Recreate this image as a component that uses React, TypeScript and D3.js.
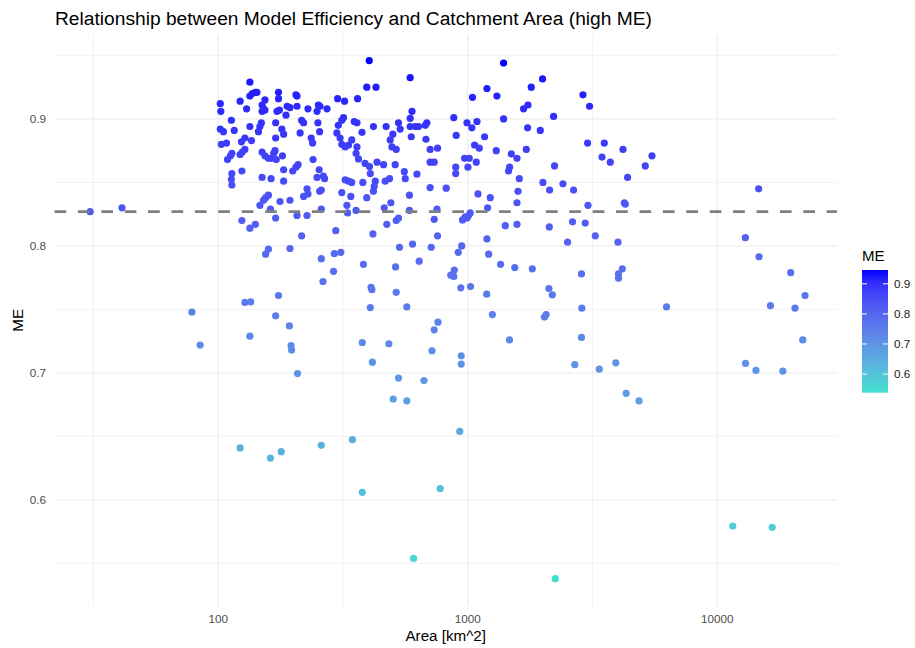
import React from "react";
import * as d3 from "d3";

// ---- data: catchment area [km^2] and model efficiency (ME) ----
const areaKm2: number[] = [
  134,141,137,134,143,174.5,174.5,205,207,154,122.5,102,102.5,130,150,152,150,154,172,176,189,194,207,187,229,252,249,256,273,113,216,220,251,170,149,147,102,105,116,134,145,180,183,170,213,255,236,239,128,124,136,108,103,113.5,112,109,125,122.5,128,150,154,167,169,164,171,159,181,240,183,199,205,209,254,249,264,267,124.5,113.5,113,113.5,150,163,183,227,220,229,259,255,159,155,152,177,194,147,162,170,207,227,259,124.5,141,134,216,296,
  30.7,41.2,78.5,84.7,
  403,588,394,429,301,321,362,598,588,318,313,303,299,308,313,323,333,343,351,360,377,419,471,528,536,588,616,635,686,676,879,899,594,501,489,680,360,357,365,497,517,707,757,707,734,388,404,407,433,460,512,557,562,626,895,895,323,333,343,380,426,422,419,467,486,707,820,313,340,328,394,492,584,463,584,753,330,357,528,517,734,474,417,757,
  1392,1994,1797,1194,1045,1309,2895,3077,1743,1674,2208,1392,993,1039,1089,1168,1737,1953,3021,3525,1065,1112,1301,1494,1575,1716,3451,971,1014,1082,1002,1471,1457,2228,1609,2001,2407,1590,2128,2655,1099,1231,1575,3032,1201,977,953,1007,993,1023,1414,1575,2630,2957,2122,3243,1194,
  4188,3725,5472,5143,4370,14640,4240,4279,2512,3999,12950,14690,
  159,155,194,259,292,310,382,533,601,639,714,514,916,946,883,855,879,1213,1354,1543,1814,4162,4018,4018,2856,19670,290,263,410,413,517,938,1026,1191,2114,2182,22460,174.5,128,135,170,407,570,1255,2029,2061,2864,6258,16320,20470,193,760,734,134,196,197,378,483,719,1470,2856,21990,415,942,942,2685,3365,3919,12970,14280,18300,208,528,668,4314,4856,503,570,929,122.5,162,179,259,345,378,776,607,2242,11530,16590,
];

const meValues: number[] = [
  0.929,0.921,0.920,0.918,0.921,0.921,0.916,0.919,0.918,0.915,0.914,0.912,0.906,0.908,0.911,0.908,0.906,0.907,0.906,0.907,0.910,0.909,0.910,0.903,0.908,0.911,0.906,0.910,0.908,0.899,0.899,0.897,0.897,0.897,0.897,0.894,0.892,0.890,0.891,0.894,0.890,0.892,0.888,0.885,0.889,0.890,0.885,0.881,0.885,0.882,0.883,0.881,0.880,0.873,0.871,0.868,0.874,0.872,0.876,0.874,0.871,0.873,0.875,0.869,0.868,0.869,0.871,0.868,0.860,0.859,0.862,0.864,0.860,0.854,0.855,0.853,0.859,0.857,0.8525,0.848,0.854,0.853,0.851,0.845,0.839,0.841,0.844,0.843,0.840,0.838,0.836,0.835,0.836,0.832,0.829,0.822,0.824,0.824,0.829,0.820,0.817,0.814,0.808,0.812,
  0.827,0.830,0.748,0.722,
  0.946,0.9325,0.925,0.925,0.916,0.914,0.916,0.906,0.9005,0.901,0.899,0.895,0.889,0.885,0.880,0.878,0.8795,0.8835,0.898,0.897,0.8895,0.894,0.894,0.897,0.892,0.894,0.894,0.894,0.897,0.895,0.901,0.887,0.886,0.888,0.8835,0.884,0.878,0.873,0.8685,0.878,0.876,0.876,0.877,0.866,0.866,0.865,0.8625,0.857,0.866,0.864,0.864,0.8585,0.853,0.8565,0.862,0.857,0.852,0.851,0.850,0.850,0.851,0.847,0.843,0.851,0.853,0.846,0.8455,0.842,0.839,0.832,0.838,0.834,0.840,0.830,0.828,0.829,0.826,0.828,0.822,0.820,0.821,0.817,0.8095,0.808,
  0.944,0.9315,0.925,0.924,0.917,0.918,0.919,0.910,0.911,0.908,0.902,0.900,0.897,0.893,0.898,0.886,0.893,0.891,0.881,0.881,0.8795,0.877,0.875,0.8725,0.869,0.876,0.870,0.869,0.869,0.866,0.862,0.862,0.859,0.863,0.853,0.850,0.849,0.843,0.844,0.844,0.841,0.838,0.834,0.832,0.830,0.823,0.8205,0.824,0.822,0.826,0.816,0.817,0.819,0.818,0.815,0.808,0.8055,
  0.876,0.866,0.871,0.863,0.854,0.845,0.834,0.833,0.803,0.803,0.8065,0.7915,
  0.7975,0.7935,0.798,0.790,0.794,0.795,0.7855,0.799,0.8015,0.788,0.799,0.7835,0.795,0.800,0.781,0.777,0.776,0.7935,0.7855,0.783,0.782,0.782,0.778,0.7745,0.778,0.779,0.780,0.772,0.7675,0.7655,0.7635,0.767,0.768,0.762,0.7665,0.7615,0.761,0.761,0.7555,0.756,0.745,0.7515,0.752,0.746,0.744,0.746,0.751,0.752,0.753,0.751,0.737,0.740,0.734,0.729,0.7215,0.718,0.724,0.723,0.7175,0.726,0.728,0.726,0.7085,0.7135,0.707,0.7065,0.703,0.708,0.7075,0.702,0.7015,0.6995,0.696,0.694,0.684,0.678,0.6795,0.678,0.654,0.641,0.633,0.638,0.643,0.6475,0.606,0.609,0.554,0.538,0.5795,0.5785,
];

const thresholdME = 0.827;
const xDomain: [number, number] = [22.1, 30160];
const yDomain: [number, number] = [0.5165, 0.9665];
const xMajorTicks = [100, 1000, 10000];
const xMinorTicks = [31.62, 316.2, 3162];
const yMajorTicks = [0.6, 0.7, 0.8, 0.9];
const yMinorTicks = [0.55, 0.65, 0.75, 0.85, 0.95];
const legendTicks = [0.6, 0.7, 0.8, 0.9];
const titleText = "Relationship between Model Efficiency and Catchment Area (high ME)";
const xTitle = "Area [km^2]";
const yTitle = "ME";
const lowColor = "#40E0D0";
const highColor = "#0000FF";

const W = 915;
const H = 648;
const P = { left: 54.5, right: 837, top: 34.5, bottom: 606 };
const FONT = "'Liberation Sans', Arial, Helvetica, sans-serif";

export default function App() {
  const points = areaKm2.map((a, i) => ({ area: a, me: meValues[i] }));

  const x = d3.scaleLog().domain(xDomain).range([P.left, P.right]);
  const y = d3.scaleLinear().domain(yDomain).range([P.bottom, P.top]);

  const meExtent = d3.extent(meValues) as [number, number];
  const interp = d3.interpolateLab(lowColor, highColor);
  const color = d3.scaleLinear<number>().domain(meExtent).range([0, 1]);
  const col = (v: number) => interp(color(v));

  // legend
  const LG = { x: 862, w: 26, top: 270, bottom: 392.7 };
  const ly2 = d3.scaleLinear().domain(meExtent).range([LG.bottom, LG.top]);
  const stops = d3.range(0, 1.0001, 0.1);

  const gridColor = "#EBEBEB";

  return (
    <svg
      width={W}
      height={H}
      style={{ position: "absolute", left: 0, top: 0, display: "block", background: "#fff" }}
      fontFamily={FONT}
    >
      <defs>
        <linearGradient id="meGrad" x1="0" y1="1" x2="0" y2="0">
          {stops.map((s) => (
            <stop key={s} offset={s} stopColor={interp(s)} />
          ))}
        </linearGradient>
      </defs>
      <rect x={0} y={0} width={W} height={H} fill="#fff" />

      {/* minor grid */}
      {xMinorTicks.map((t) => (
        <line key={"xm" + t} x1={x(t)} x2={x(t)} y1={P.top} y2={P.bottom} stroke={gridColor} strokeWidth={0.6} />
      ))}
      {yMinorTicks.map((t) => (
        <line key={"ym" + t} x1={P.left} x2={P.right} y1={y(t)} y2={y(t)} stroke={gridColor} strokeWidth={0.6} />
      ))}
      {/* major grid */}
      {xMajorTicks.map((t) => (
        <line key={"xM" + t} x1={x(t)} x2={x(t)} y1={P.top} y2={P.bottom} stroke={gridColor} strokeWidth={1.1} />
      ))}
      {yMajorTicks.map((t) => (
        <line key={"yM" + t} x1={P.left} x2={P.right} y1={y(t)} y2={y(t)} stroke={gridColor} strokeWidth={1.1} />
      ))}

      {/* points */}
      {points.map((p, i) => (
        <circle key={i} cx={x(p.area)} cy={y(p.me)} r={3.6} fill={col(p.me)} />
      ))}

      {/* threshold line */}
      <line
        x1={P.left}
        x2={P.right}
        y1={y(thresholdME)}
        y2={y(thresholdME)}
        stroke="#7F7F7F"
        strokeWidth={2.8}
        strokeDasharray="11.7 11.7"
      />

      {/* axes text */}
      {yMajorTicks.map((t) => (
        <text key={"yl" + t} x={46} y={y(t)} dy="0.35em" textAnchor="end" fontSize={11.7} fill="#4D4D4D">
          {d3.format(".1f")(t)}
        </text>
      ))}
      {xMajorTicks.map((t) => (
        <text key={"xl" + t} x={x(t)} y={619} dy="0.35em" textAnchor="middle" fontSize={11.7} fill="#4D4D4D">
          {String(t)}
        </text>
      ))}
      <text x={(P.left + P.right) / 2} y={636} dy="0.35em" textAnchor="middle" fontSize={15.2} fill="#000">
        {xTitle}
      </text>
      <text
        transform={`translate(18,${(P.top + P.bottom) / 2}) rotate(-90)`}
        dy="0.35em"
        textAnchor="middle"
        fontSize={15.2}
        fill="#000"
      >
        {yTitle}
      </text>
      <text x={55} y={25} fontSize={19.2} fill="#000">
        {titleText}
      </text>

      {/* legend */}
      <text x={LG.x} y={256} dy="0.35em" fontSize={15} fill="#000">
        ME
      </text>
      <rect x={LG.x} y={LG.top} width={LG.w} height={LG.bottom - LG.top} fill="url(#meGrad)" />
      {legendTicks.map((t) => (
        <g key={"lg" + t}>
          <line x1={LG.x} x2={LG.x + 5} y1={ly2(t)} y2={ly2(t)} stroke="#fff" strokeWidth={1} />
          <line x1={LG.x + LG.w - 5} x2={LG.x + LG.w} y1={ly2(t)} y2={ly2(t)} stroke="#fff" strokeWidth={1} />
          <text x={LG.x + LG.w + 6} y={ly2(t)} dy="0.35em" fontSize={11.7} fill="#1A1A1A">
            {d3.format(".1f")(t)}
          </text>
        </g>
      ))}
    </svg>
  );
}
